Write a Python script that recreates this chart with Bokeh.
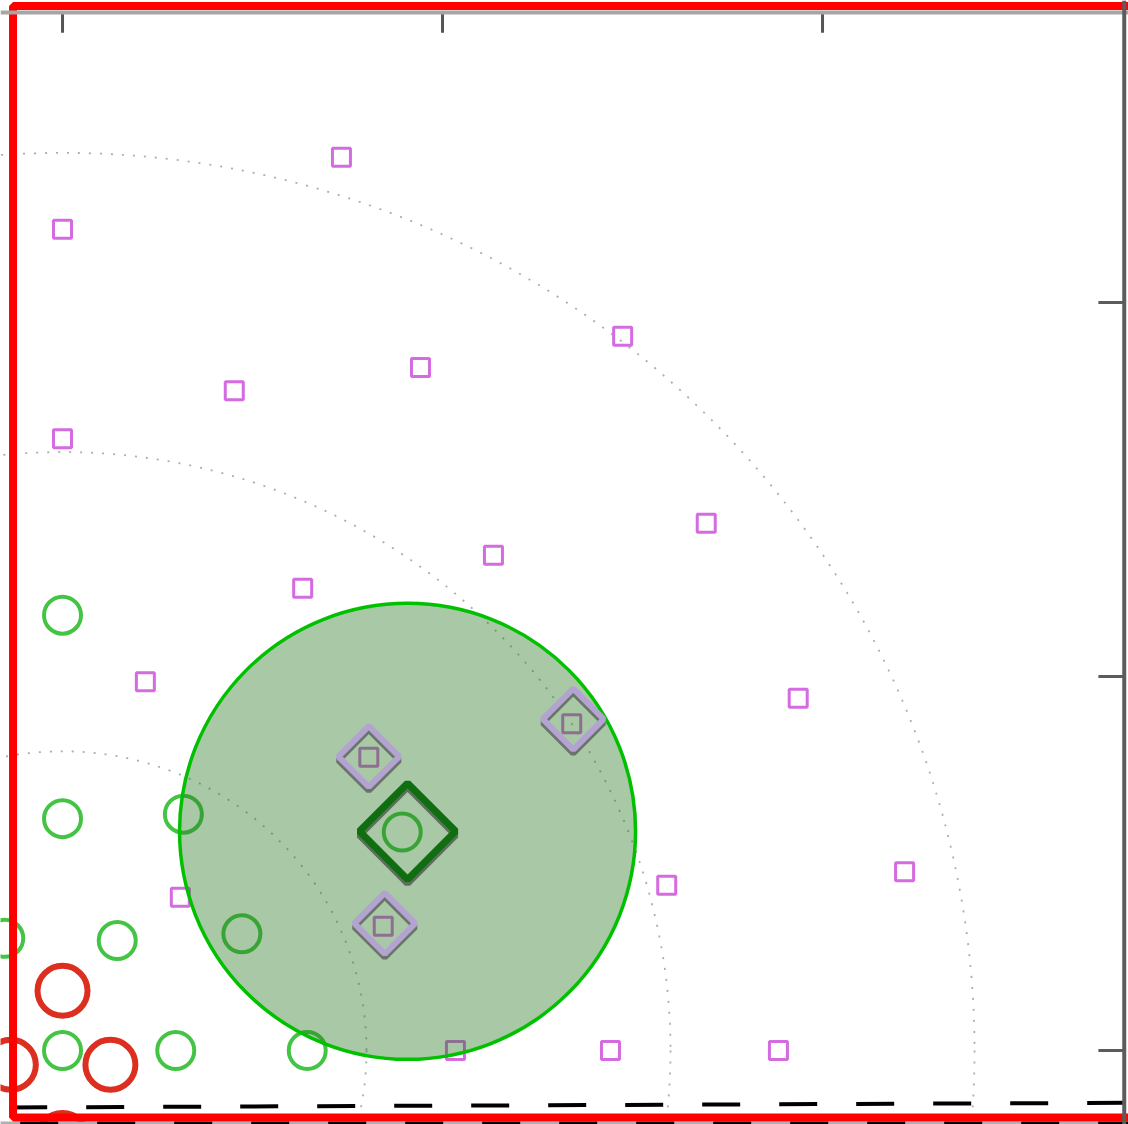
import numpy as np
from bokeh.plotting import figure
from bokeh.models import ColumnDataSource, Span
from bokeh.transform import dodge
from bokeh.embed import file_html
from bokeh.resources import INLINE

# --- data -----------------------------------------------------------------
# class "square" training points
sq_x = [3.67, 0.00, 7.37, 4.71, 2.26, 0.00, 8.47, 5.67, 3.16, 1.09,
        9.68, 11.08, 7.95, 1.55, 5.17, 7.21, 9.42, 4.03, 6.70, 4.22]
sq_y = [11.94, 10.98, 9.55, 9.13, 8.82, 8.18, 7.05, 6.62, 6.18, 4.93,
        4.71, 2.39, 2.21, 2.05, 0.00, 0.00, 0.00, 3.92, 4.37, 1.66]

# class "green circle" training points
gc_x = [0.00, 0.00, 1.59, 4.47, -0.76, 0.72, 2.36, 0.00, 1.49, 3.22]
gc_y = [5.82, 3.10, 3.16, 2.92, 1.50, 1.47, 1.56, 0.00, 0.00, 0.00]

# class "red circle" training points
rc_x = [0.00, 0.63, -0.68, 0.00]
rc_y = [0.80, -0.19, -0.19, -1.17]

# query point and its neighbourhood radius
query_x = [4.54]
query_y = [2.93]
query_radius = 3.0

# nearest neighbours found inside the neighbourhood
nn_x = [4.03, 6.72, 4.24]
nn_y = [3.93, 4.43, 1.70]

# concentric distance rings around the origin
ring_r = [4, 8, 12]

# tick positions
tick_vals = [0, 5, 10]

# axis positions and the zoom window outline (data units)
axis_top = 13.877
axis_right = 13.97
tick_len_x = 0.34
tick_len_y = 0.27
zoom_left, zoom_right, zoom_bottom, zoom_top = -0.651, 15.0, -0.896, 13.962

# boundary lines along the bottom
bound1_x = [-0.82, 14.03]
bound1_y = [-0.762, -0.699]
bound2_x = [-0.82, 14.03]
bound2_y = [-0.969, -0.969]

# --- figure ---------------------------------------------------------------
p = figure(width=1128, height=1124,
           x_range=(-0.816, 14.026), y_range=(-0.989, 14.037),
           output_backend="svg", toolbar_location=None,
           min_border=0, x_axis_location=None, y_axis_location=None)
p.grid.visible = False
p.outline_line_color = None
p.background_fill_color = "white"
p.border_fill_color = "white"

# dotted distance rings
p.ellipse(x=0, y=0, width=[2 * r for r in ring_r], height=[2 * r for r in ring_r],
          fill_color=None, line_color="#8a8a8a", line_alpha=0.7,
          line_width=1.8, line_dash="2 9")

# training points
p.scatter(sq_x, sq_y, marker="square", size=18, fill_color=None,
          line_color="#d46be0", line_width=3)
p.scatter(gc_x, gc_y, marker="circle", size=37, fill_color=None,
          line_color="#44c444", line_width=4)
p.scatter(rc_x, rc_y, marker="circle", size=50, fill_color=None,
          line_color="#dc2f1f", line_width=6)

# neighbourhood disc
p.circle(x=query_x, y=query_y, radius=query_radius,
         fill_color="#267620", fill_alpha=0.4,
         line_color="#00c000", line_width=3.5)

# neighbour markers with a soft drop shadow
nn_src = ColumnDataSource(dict(x=nn_x, y=nn_y))
p.scatter(x="x", y=dodge("y", -0.05), source=nn_src, marker="square",
          angle=np.pi / 4, size=43, fill_color=None,
          line_color="#6a746a", line_width=6)
p.scatter(x="x", y="y", source=nn_src, marker="square",
          angle=np.pi / 4, size=43, fill_color=None,
          line_color="#b3a3d1", line_width=6)

# query marker
q_src = ColumnDataSource(dict(x=query_x, y=query_y))
p.scatter(x="x", y=dodge("y", -0.05), source=q_src, marker="square",
          angle=np.pi / 4, size=68, fill_color=None,
          line_color="#5e6e5e", line_width=7)
p.scatter(x="x", y="y", source=q_src, marker="square",
          angle=np.pi / 4, size=68, fill_color=None,
          line_color="#0f6e0f", line_width=7)

# axis spines and ticks
p.add_layout(Span(location=axis_top, dimension="width",
                  line_color="#a6a6a6", line_width=4))
p.add_layout(Span(location=axis_right, dimension="height",
                  line_color="#5c5c5c", line_width=4))
p.segment(x0=tick_vals, y0=axis_top, x1=tick_vals, y1=axis_top - tick_len_y,
          line_color="#555555", line_width=3)
p.segment(x0=axis_right, y0=tick_vals, x1=axis_right - tick_len_x, y1=tick_vals,
          line_color="#5c5c5c", line_width=3)

# dashed boundaries
p.line(bound2_x, bound2_y, line_color="#b0b0b0", line_width=3)
p.line(bound2_x, bound2_y, line_color="black", line_width=3,
       line_dash="38 39", line_dash_offset=57)
p.line(bound1_x, bound1_y, line_color="black", line_width=4,
       line_dash="38 39", line_dash_offset=68)

# zoom window outline
p.quad(left=[zoom_left], right=[zoom_right], bottom=[zoom_bottom], top=[zoom_top],
       fill_color=None, line_color="#ff0000", line_width=8)

with open("out.html", "w") as f:
    f.write(file_html(p, INLINE))
